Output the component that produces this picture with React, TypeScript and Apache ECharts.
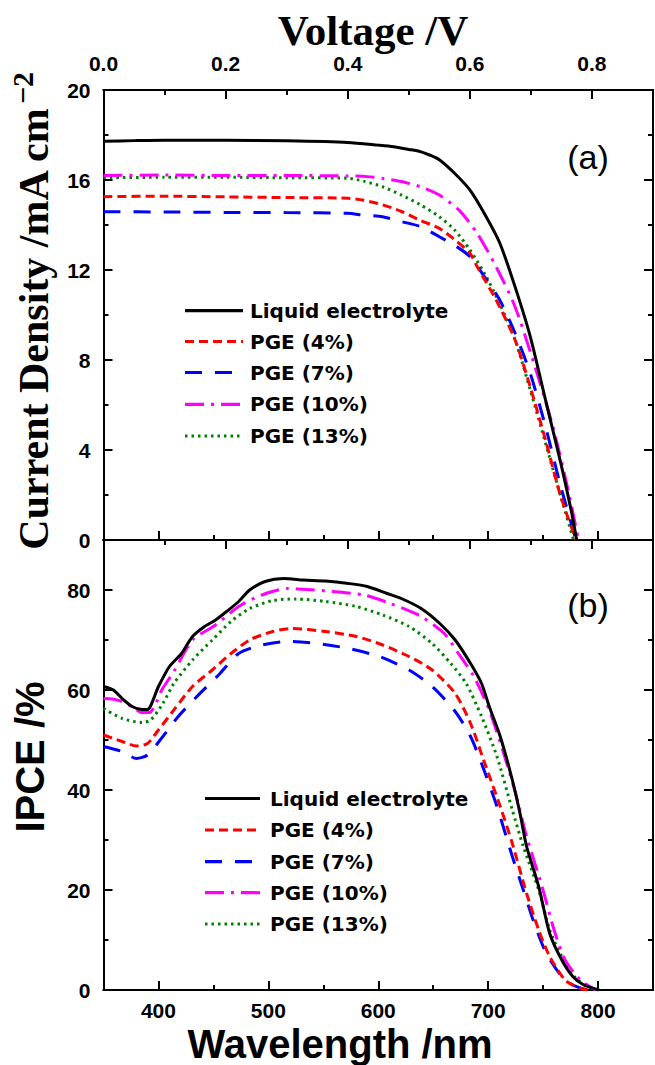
import React, { useEffect, useRef } from "react";
import * as echarts from "echarts";

// ---------- DATA ----------
const seriesNames = ["Liquid electrolyte", "PGE (4%)", "PGE (7%)", "PGE (10%)", "PGE (13%)"];

// (a) J-V curves: [voltage V, current density mA cm-2]
const jvLiquid = [[0, 17.72], [0.05, 17.75], [0.1, 17.77], [0.2, 17.77], [0.3, 17.74], [0.4, 17.67], [0.45, 17.55], [0.475, 17.48], [0.5, 17.36], [0.519, 17.26], [0.535, 17.1], [0.55, 16.9], [0.575, 16.3], [0.6, 15.56], [0.624, 14.5], [0.649, 13.2], [0.674, 11.26], [0.699, 9.04], [0.724, 6.22], [0.749, 3.42], [0.767, 1.18], [0.775, 0]];
const jvPGE4 = [[0, 15.26], [0.1, 15.28], [0.2, 15.25], [0.3, 15.22], [0.4, 15.19], [0.426, 15.1], [0.457, 14.9], [0.488, 14.6], [0.519, 14.2], [0.55, 13.85], [0.575, 13.35], [0.6, 12.75], [0.612, 12.15], [0.643, 10.67], [0.674, 8.9], [0.699, 6.8], [0.724, 4.44], [0.749, 1.93], [0.774, 0]];
const jvPGE7 = [[0, 14.59], [0.1, 14.58], [0.2, 14.56], [0.3, 14.55], [0.4, 14.52], [0.426, 14.44], [0.457, 14.37], [0.488, 14.15], [0.519, 13.93], [0.55, 13.48], [0.575, 13.1], [0.6, 12.6], [0.624, 11.7], [0.649, 10.67], [0.674, 9.2], [0.699, 7.4], [0.724, 5.04], [0.749, 2.37], [0.774, 0]];
const jvPGE10 = [[0, 16.2], [0.1, 16.22], [0.2, 16.2], [0.3, 16.2], [0.4, 16.18], [0.432, 16.15], [0.46, 16.06], [0.488, 15.93], [0.519, 15.7], [0.55, 15.33], [0.582, 14.67], [0.612, 13.63], [0.643, 12.15], [0.674, 10.37], [0.705, 7.85], [0.736, 5.04], [0.761, 2.22], [0.778, 0]];
const jvPGE13 = [[0, 16.1], [0.1, 16.12], [0.2, 16.12], [0.3, 16.1], [0.4, 16.08], [0.426, 15.95], [0.457, 15.7], [0.488, 15.33], [0.519, 14.9], [0.55, 14.37], [0.575, 13.78], [0.6, 12.9], [0.624, 11.85], [0.649, 10.5], [0.674, 8.9], [0.699, 6.67], [0.724, 4.3], [0.749, 1.93], [0.77, 0]];

// (b) IPCE: [wavelength nm, IPCE %]
const ipceLiquid = [[350, 60.7], [359, 60], [367, 58.3], [376, 56.7], [385, 56.1], [390, 56.1], [400, 60.7], [410, 64.7], [421, 67.3], [431, 70.7], [442, 72.7], [452, 74], [462, 75.7], [473, 77.7], [483, 80], [497, 81.7], [514, 82.3], [532, 82], [552, 81.8], [573, 81.3], [590, 80.7], [608, 79.3], [621, 78.3], [639, 76.3], [656, 73.3], [670, 70], [684, 65.3], [694, 61.3], [701, 56.7], [711, 50.7], [722, 42], [729, 35.3], [735, 28.7], [746, 20.7], [756, 11.3], [767, 6], [777, 2.7], [787, 1], [801, 0]];
const ipcePGE4 = [[350, 51], [367, 49.7], [380, 48.8], [390, 49.3], [400, 52], [414, 56], [431, 60.7], [449, 64], [466, 67.3], [483, 70], [504, 71.7], [521, 72.3], [552, 71.7], [580, 70.7], [604, 69], [628, 66.7], [649, 64], [670, 59.3], [684, 53.3], [697, 45.3], [711, 36.7], [722, 29.3], [735, 19.3], [746, 12], [756, 6.7], [770, 2], [784, 0.3], [795, 0]];
const ipcePGE7 = [[350, 48.7], [367, 47.7], [380, 46.3], [390, 47], [404, 50.7], [418, 54.7], [435, 58.7], [456, 63.3], [473, 67.3], [494, 69], [518, 69.7], [545, 69.3], [573, 68.3], [601, 66.7], [628, 64], [649, 60.7], [670, 55.7], [684, 50.7], [694, 45.3], [708, 36.7], [722, 26.7], [732, 20], [742, 13.3], [753, 7.3], [767, 2.7], [777, 1], [790, 0]];
const ipcePGE10 = [[350, 58.3], [358, 58.2], [367, 57.7], [377, 56.5], [385, 55.5], [392, 55.5], [397, 57], [403, 60], [414, 63.7], [431, 70], [452, 73], [473, 76.7], [494, 79], [518, 80.3], [535, 80.1], [559, 79.7], [587, 79], [611, 77.3], [639, 74.7], [660, 71.3], [673, 67.3], [687, 62.7], [701, 56], [715, 46.7], [725, 39.3], [735, 30.7], [749, 20.7], [760, 12], [770, 6], [784, 2], [798, 0]];
const ipcePGE13 = [[350, 56.3], [367, 54.3], [385, 53.5], [393, 54], [404, 57.3], [414, 61.3], [431, 66], [449, 70], [466, 73.7], [483, 76.3], [504, 77.9], [525, 78.2], [552, 77.7], [580, 76.7], [604, 75], [628, 72.7], [649, 69.3], [666, 65.3], [680, 61.3], [694, 54.7], [708, 46.7], [722, 36], [732, 28.7], [746, 20], [756, 12], [767, 6.7], [780, 2.3], [794, 0.3], [800, 0]];

// Axis ticks / labels
const voltMajor = [0, 0.2, 0.4, 0.6, 0.8];
const voltMinor = [0.1, 0.3, 0.5, 0.7];
const jMajor = [0, 4, 8, 12, 16, 20];
const jMinor = [2, 6, 10, 14, 18];
const waveMajor = [400, 500, 600, 700, 800];
const waveMinor = [450, 550, 650, 750];
const ipceMajor = [0, 20, 40, 60, 80];
const ipceMinor = [10, 30, 50, 70];

// ---------- STYLE ----------
const colors = ["#000000", "#ff0000", "#0000ff", "#ff00ff", "#008000"];
const dashes: any[] = ["solid", [9, 5], [17, 13], [19, 7, 3, 7], [2.5, 4]];
const LEGEND_FONT = "'DejaVu Sans', sans-serif";
const SANS = "'Liberation Sans', Arial, sans-serif";
const SERIF = "'Liberation Serif', 'Times New Roman', serif";

function mkAxis(grid: number, pos: string, min: number, max: number, ticks: number[], len: number, inside: boolean, label?: any) {
  return {
    type: "value",
    gridIndex: grid,
    position: pos,
    min,
    max,
    axisLine: { show: true, onZero: false, lineStyle: { color: "#000", width: 2 } },
    axisTick: { show: true, inside, length: len, customValues: ticks, lineStyle: { color: "#000", width: 2 } },
    axisLabel: label
      ? {
          show: true,
          customValues: label.values,
          formatter: label.formatter,
          margin: label.margin,
          fontFamily: SANS,
          fontWeight: "bold",
          fontSize: 21,
          color: "#000",
        }
      : { show: false },
    splitLine: { show: false },
    minorTick: { show: false },
    minorSplitLine: { show: false },
  };
}

function buildOption() {
  const MAJ = 9;
  const MIN = 5;
  const xAxis = [
    mkAxis(0, "top", 0, 0.9, voltMajor, MAJ, true, { values: voltMajor, formatter: (v: number) => v.toFixed(1), margin: 16 }),
    mkAxis(0, "top", 0, 0.9, voltMinor, MIN, true),
    mkAxis(0, "bottom", 0, 0.9, voltMajor, MAJ, false),
    mkAxis(0, "bottom", 0, 0.9, voltMinor, MIN, false),
    mkAxis(1, "bottom", 350, 850, waveMajor, MAJ, true, { values: waveMajor, formatter: (v: number) => String(v), margin: 10 }),
    mkAxis(1, "bottom", 350, 850, waveMinor, MIN, true),
    mkAxis(1, "top", 350, 850, waveMajor, MAJ, false),
    mkAxis(1, "top", 350, 850, waveMinor, MIN, false),
  ];
  const yAxis = [
    mkAxis(0, "left", 0, 20, jMajor, MAJ, true, { values: jMajor, formatter: (v: number) => String(v), margin: 13 }),
    mkAxis(0, "left", 0, 20, jMinor, MIN, true),
    mkAxis(0, "right", 0, 20, jMajor, MAJ, true),
    mkAxis(0, "right", 0, 20, jMinor, MIN, true),
    mkAxis(1, "left", 0, 90, ipceMajor, MAJ, true, { values: ipceMajor, formatter: (v: number) => String(v), margin: 13 }),
    mkAxis(1, "left", 0, 90, ipceMinor, MIN, true),
    mkAxis(1, "right", 0, 90, ipceMajor, MAJ, true),
    mkAxis(1, "right", 0, 90, ipceMinor, MIN, true),
  ];

  const jvData = [jvLiquid, jvPGE4, jvPGE7, jvPGE10, jvPGE13];
  const ipceData = [ipceLiquid, ipcePGE4, ipcePGE7, ipcePGE10, ipcePGE13];
  const mkSeries = (data: number[][], i: number, xi: number, yi: number) => ({
    type: "line",
    name: seriesNames[i],
    xAxisIndex: xi,
    yAxisIndex: yi,
    data,
    showSymbol: false,
    symbol: "none",
    smooth: 0.25,
    z: 10 - i,
    lineStyle: { color: colors[i], width: 3, type: dashes[i], cap: "butt" },
  });
  const series = [
    ...jvData.map((d, i) => mkSeries(d, i, 0, 0)),
    ...ipceData.map((d, i) => mkSeries(d, i, 4, 4)),
  ];

  const legend = (x1: number, x2: number, xt: number, ys: number[]) =>
    seriesNames.flatMap((name, i) => [
      {
        type: "line",
        shape: { x1, y1: ys[i], x2, y2: ys[i] },
        style: {
          stroke: colors[i],
          lineWidth: 3.2,
          lineDash: dashes[i] === "solid" ? null : dashes[i],
        },
        z: 100,
      },
      {
        type: "text",
        x: xt,
        y: ys[i],
        style: {
          text: name,
          fill: "#000",
          font: `bold 20px ${LEGEND_FONT}`,
          textAlign: "left",
          textVerticalAlign: "middle",
          verticalAlign: "middle",
        },
        z: 100,
      },
    ]);

  const graphic: any[] = [
    {
      type: "text",
      x: 373,
      y: 30,
      style: { text: "Voltage /V", fill: "#000", font: `bold 43px ${SERIF}`, textAlign: "center", verticalAlign: "middle", textVerticalAlign: "middle" },
    },
    {
      type: "text",
      x: 34,
      y: 329,
      rotation: Math.PI / 2,
      style: { text: "Current Density /mA cm", fill: "#000", font: `bold 42px ${SERIF}`, textAlign: "center", verticalAlign: "middle", textVerticalAlign: "middle" },
    },
    {
      type: "text",
      x: 22,
      y: 104,
      rotation: Math.PI / 2,
      style: { text: "\u22122", fill: "#000", font: `bold 30px ${SERIF}`, textAlign: "left", verticalAlign: "middle", textVerticalAlign: "middle" },
    },
    {
      type: "text",
      x: 30,
      y: 757,
      rotation: Math.PI / 2,
      style: { text: "IPCE /%", fill: "#000", font: `bold 40px ${SANS}`, textAlign: "center", verticalAlign: "middle", textVerticalAlign: "middle" },
    },
    {
      type: "text",
      x: 340,
      y: 1044,
      style: { text: "Wavelength /nm", fill: "#000", font: `bold 40px ${SANS}`, textAlign: "center", verticalAlign: "middle", textVerticalAlign: "middle" },
    },
    {
      type: "text",
      x: 588,
      y: 157,
      style: { text: "(a)", fill: "#000", font: `34px ${SANS}`, textAlign: "center", verticalAlign: "middle", textVerticalAlign: "middle" },
    },
    {
      type: "text",
      x: 588,
      y: 605,
      style: { text: "(b)", fill: "#000", font: `34px ${SANS}`, textAlign: "center", verticalAlign: "middle", textVerticalAlign: "middle" },
    },
    ...legend(185, 243, 250, [310.7, 341.5, 372.5, 404.3, 436]),
    ...legend(205, 260, 270, [798.5, 830, 861.7, 892.7, 924]),
  ];

  return {
    animation: false,
    backgroundColor: "#fff",
    grid: [
      { left: 103.5, top: 90, width: 549.5, height: 450, outerBoundsMode: "none", containLabel: false },
      { left: 103.5, top: 540, width: 549.5, height: 450, outerBoundsMode: "none", containLabel: false },
    ],
    xAxis,
    yAxis,
    series,
    graphic,
  };
}

export default function App() {
  const ref = useRef<HTMLDivElement>(null);
  useEffect(() => {
    const chart = echarts.init(ref.current as HTMLDivElement, null, { renderer: "svg" });
    chart.setOption(buildOption() as any);
    return () => chart.dispose();
  }, []);
  return (
    <div
      ref={ref}
      style={{ position: "absolute", left: 0, top: 0, width: 655, height: 1065, background: "#fff" }}
    />
  );
}
